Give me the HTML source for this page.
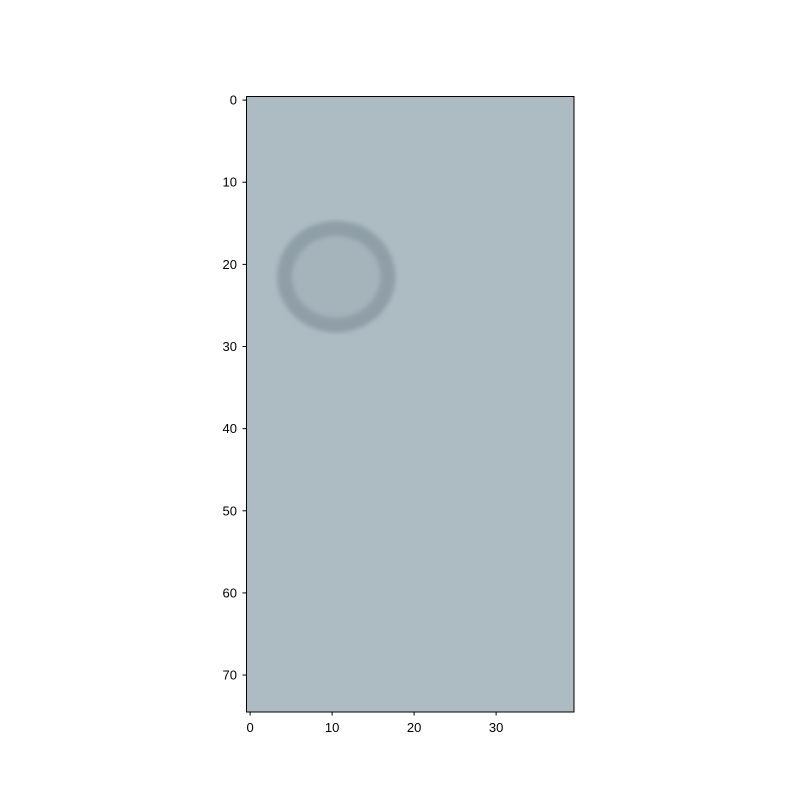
<!DOCTYPE html>
<html><head><meta charset="utf-8"><style>
body{margin:0;background:#fff;}
svg text{font-family:"Liberation Sans",sans-serif;font-size:13px;fill:#000}
</style></head><body>
<svg id="chart" width="800" height="800">
<defs><filter id="b"><feGaussianBlur stdDeviation="2.5"/></filter>
<clipPath id="c"><rect x="246" y="96" width="328" height="616"/></clipPath></defs>
<g id="plot" clip-path="url(#c)"></g>
<rect x="246.5" y="96.5" width="327.5" height="615.5" fill="none" stroke="#000" stroke-width="1"/>
<g id="ticks"></g>
</svg>
<script>
const imgW = 40, imgH = 75;
const xTicks = [0,10,20,30];
const yTicks = [0,10,20,30,40,50,60,70];
const ringCenter = [10.5, 21.5];
const ringRadius = [6.3, 5.9];
const bgColor = "#adbcc3";
const ringColor = "#8f9fa7";
const X = v => 246 + (v + 0.5) * 328 / imgW;
const Y = v => 96 + (v + 0.5) * 616 / imgH;
const ns = "http://www.w3.org/2000/svg";
const plot = document.getElementById('plot');
const ticks = document.getElementById('ticks');
function mk(t, a, p){const e=document.createElementNS(ns,t);for(const k in a)e.setAttribute(k,a[k]);p.appendChild(e);return e;}
const bg = mk('rect',{x:X(-0.5),y:Y(-0.5),width:X(imgW-0.5)-X(-0.5),height:Y(imgH-0.5)-Y(-0.5),fill:bgColor},plot);


const ring = mk('ellipse',{cx:X(ringCenter[0]),cy:Y(ringCenter[1]),rx:ringRadius[0]*8.2,ry:ringRadius[1]*8.2,fill:"#a5b4bb",stroke:ringColor,"stroke-width":15,filter:"url(#b)"},plot);


xTicks.forEach(v=>{
  const x=X(v);
  const l=mk('line',{x1:x,x2:x,y1:712,y2:715.5,stroke:"#000"},ticks);
  
  
  const t=mk('text',{x:x,y:732,"text-anchor":"middle"},ticks);t.textContent=v;
  
  
});
yTicks.forEach(v=>{
  const y=Y(v);
  const l=mk('line',{x1:242.5,x2:246,y1:y,y2:y,stroke:"#000"},ticks);
  
  
  const t=mk('text',{x:237,y:y+4.5,"text-anchor":"end"},ticks);t.textContent=v;
  
  
});
</script>
</body></html>
